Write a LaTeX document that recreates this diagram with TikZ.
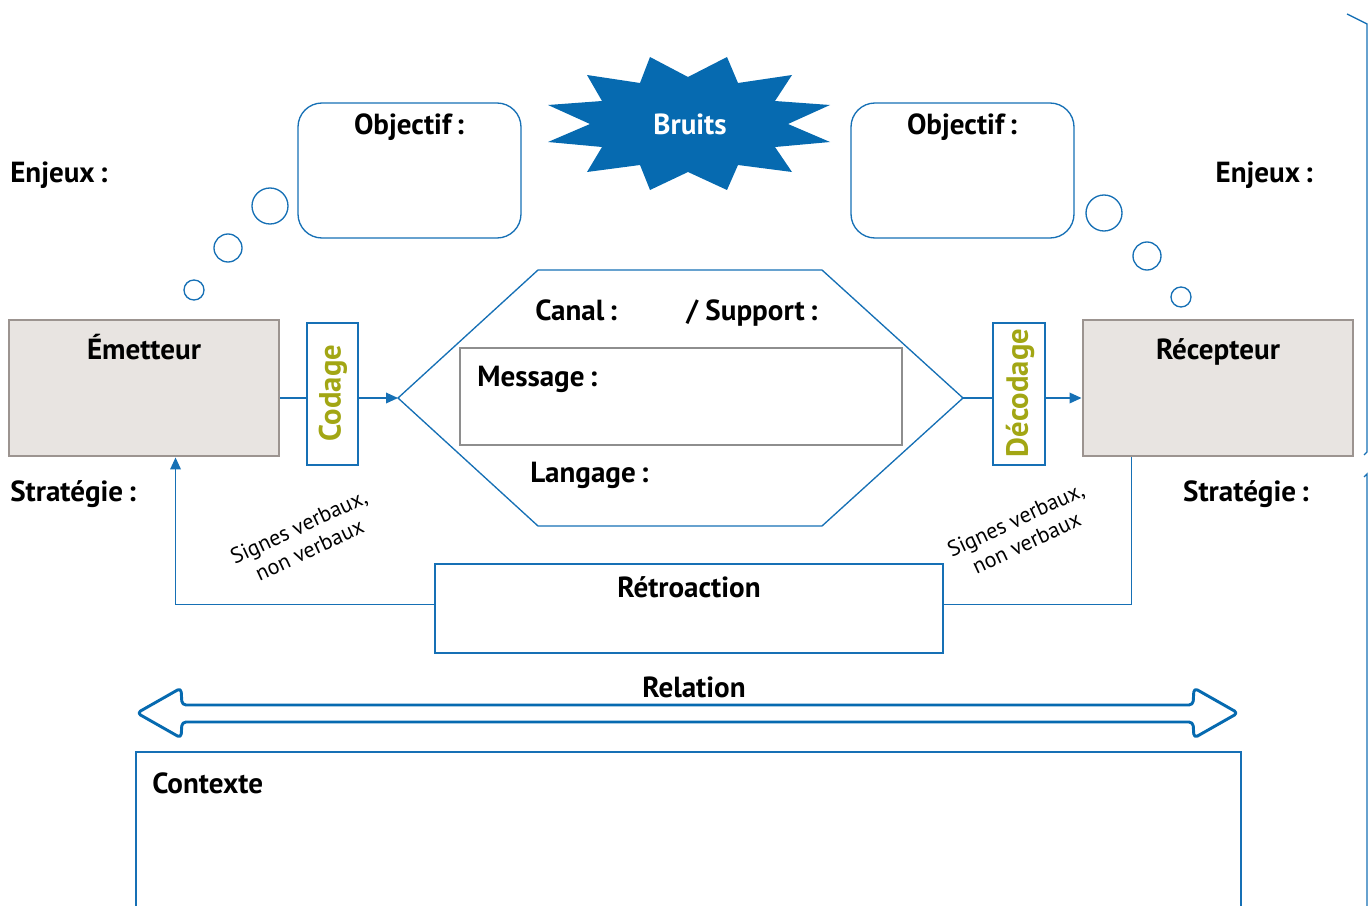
\documentclass[tikz,border=0pt]{standalone}
\usepackage{fontspec}
\setmainfont{PT Sans}
\usetikzlibrary{arrows.meta,calc}
\definecolor{bl}{HTML}{1670B5}
\definecolor{blfill}{HTML}{066AB0}
\definecolor{olive}{HTML}{A2A614}
\definecolor{boxfill}{HTML}{E8E4E1}
\definecolor{boxdraw}{HTML}{9C9490}
\definecolor{msgdraw}{HTML}{8E8E8E}
\begin{document}
\begin{tikzpicture}[x=0.75pt,y=-0.75pt,
  lbl/.style={font=\bfseries\fontsize{21.8}{25}\selectfont, inner sep=0pt, yshift=-1.5pt},
  sml/.style={font=\fontsize{16.5}{19}\selectfont, align=center, inner sep=0pt, rotate=25},
  person/.style={draw=boxdraw, fill=boxfill, line width=2.2pt, minimum width=202.5pt, minimum height=102pt, inner sep=0pt},
  codebox/.style={draw=bl, line width=1pt, minimum height=106.5pt, inner sep=0pt},
  objbox/.style={draw=bl, line width=1pt, rounded corners=18pt, minimum width=167.25pt, minimum height=101.25pt, inner sep=0pt},
  conn/.style={draw=bl, line width=1pt},
  arr/.style={conn, -{Triangle[length=9pt,width=8pt]}},
  bubble/.style={circle, draw=bl, line width=1pt, inner sep=0pt},
  codetext/.style={font=\bfseries\fontsize{23}{26}\selectfont, text=olive, rotate=90, inner sep=0pt}
]
\path[use as bounding box] (0,0) rectangle (1371,906);

% Bruits star
\fill[blfill] (650,57) -- (688,77) -- (727,57) -- (738,83) -- (792,75) -- (775,101) -- (830,105) -- (788,124) -- (830,142) -- (775,147) -- (792,172) -- (738,165) -- (727,190) -- (688,172) -- (650,190) -- (640,165) -- (587,172) -- (602,147) -- (548,142) -- (590,124) -- (548,105) -- (602,101) -- (587,75) -- (640,83) -- cycle;
\node[lbl, text=white] (bruits) at (690,122) {Bruits};

% Objectif boxes
\node[objbox] (objL) at (409.5,170.5) {};
\node[objbox] (objR) at (962.5,170.5) {};
\node[lbl] (objLt) at (409,125) {Objectif\,:};
\node[lbl] (objRt) at (962,125) {Objectif\,:};

% thought bubbles
\node[bubble, minimum size=27pt] (bL1) at (270,206) {};
\node[bubble, minimum size=21pt] (bL2) at (228,248) {};
\node[bubble, minimum size=15pt] (bL3) at (194,290) {};
\node[bubble, minimum size=27pt] (bR1) at (1104,213) {};
\node[bubble, minimum size=21pt] (bR2) at (1147,256) {};
\node[bubble, minimum size=15pt] (bR3) at (1181,297) {};

% Enjeux / Strategie
\node[lbl, anchor=west] (enjL) at (10,173) {Enjeux\,:};
\node[lbl, anchor=east] (enjR) at (1313,173) {Enjeux\,:};
\node[lbl, anchor=west] (strL) at (10,492) {Stratégie\,:};
\node[lbl, anchor=east] (strR) at (1309,492) {Stratégie\,:};

% Emetteur / Recepteur
\node[person] (em) at (144,388) {};
\node[person] (rec) at (1218,388) {};
\node[lbl, anchor=base] (emt) at (144,357) {Émetteur};
\node[lbl, anchor=base] (rect) at (1218,357) {Récepteur};

% Codage / Decodage
\node[codebox, minimum width=38.25pt] (cod) at (332.5,394) {};
\node[codebox, minimum width=39pt] (dec) at (1019,394) {};
\node[codetext] (codt) at (333,393) {Codage};
\node[codetext] (dect) at (1020,393) {Décodage};

% hexagon
\coordinate (hL) at (398,398);
\coordinate (hTL) at (538,270);
\coordinate (hTR) at (822,270);
\coordinate (hR) at (963,398);
\coordinate (hBR) at (822,526);
\coordinate (hBL) at (538,526);
\draw[conn] (hL) -- (hTL) -- (hTR) -- (hR) -- (hBR) -- (hBL) -- cycle;

\node[lbl, anchor=base west, yshift=1.5pt] (canal) at (535,320) {Canal\,:};
\node[lbl, anchor=base west, yshift=1.5pt] (supp) at (686,320) {/ Support\,:};
\node[draw=msgdraw, line width=1pt, minimum width=331.5pt, minimum height=72.75pt, inner sep=0pt] (msg) at (681,396.5) {};
\node[lbl, anchor=west] (msgt) at (477,377) {Message\,:};
\node[lbl, anchor=west] (lang) at (530,473) {Langage\,:};

% connectors
\draw[conn] (em.east |- hL) -- (cod.west |- hL);
\draw[arr] (cod.east |- hL) -- (hL);
\draw[conn] (hR) -- (dec.west |- hR);
\draw[arr] (dec.east |- hR) -- (rec.west |- hR);

% Retroaction
\node[draw=bl, line width=1pt, minimum width=381pt, minimum height=66.75pt, inner sep=0pt] (retro) at (689,608.5) {};
\node[lbl] (retrot) at (689,585) {Rétroaction};
\coordinate (recfb) at ([xshift=37.5pt]rec.south west);
\coordinate (emfb) at ([xshift=126pt]em.south west);
\draw[conn] (recfb) |- ([yshift=3pt]retro.east);
\draw[arr] ([yshift=3pt]retro.west) -| (emfb);

\node[sml] (sigL) at (304,538) {Signes verbaux,\\non verbaux};
\node[sml] (sigR) at (1021,531) {Signes verbaux,\\non verbaux};

% Relation arrow
\node[lbl] (rel) at (694,685) {Relation};
\draw[draw=blfill, line width=2.2pt, line join=round, rounded corners=3pt]
  (137,713) -- (181,688) -- (182,705) -- (1193,705) -- (1194,688) -- (1238,713) -- (1194,738) -- (1193,722) -- (182,722) -- (181,738) -- cycle;

% Contexte
\draw[draw=bl, line width=1pt] (136,910) -- (136,752) -- (1241,752) -- (1241,910);
\node[lbl, anchor=west] (ctx) at (152,781) {Contexte};

% right edge brackets
\draw[draw=bl, line width=1pt] (1347,14) -- (1367,24) -- (1367,452) -- (1364,455);
\draw[draw=bl, line width=1pt] (1364,477) -- (1367,474) -- (1367,910);
\end{tikzpicture}
\end{document}
